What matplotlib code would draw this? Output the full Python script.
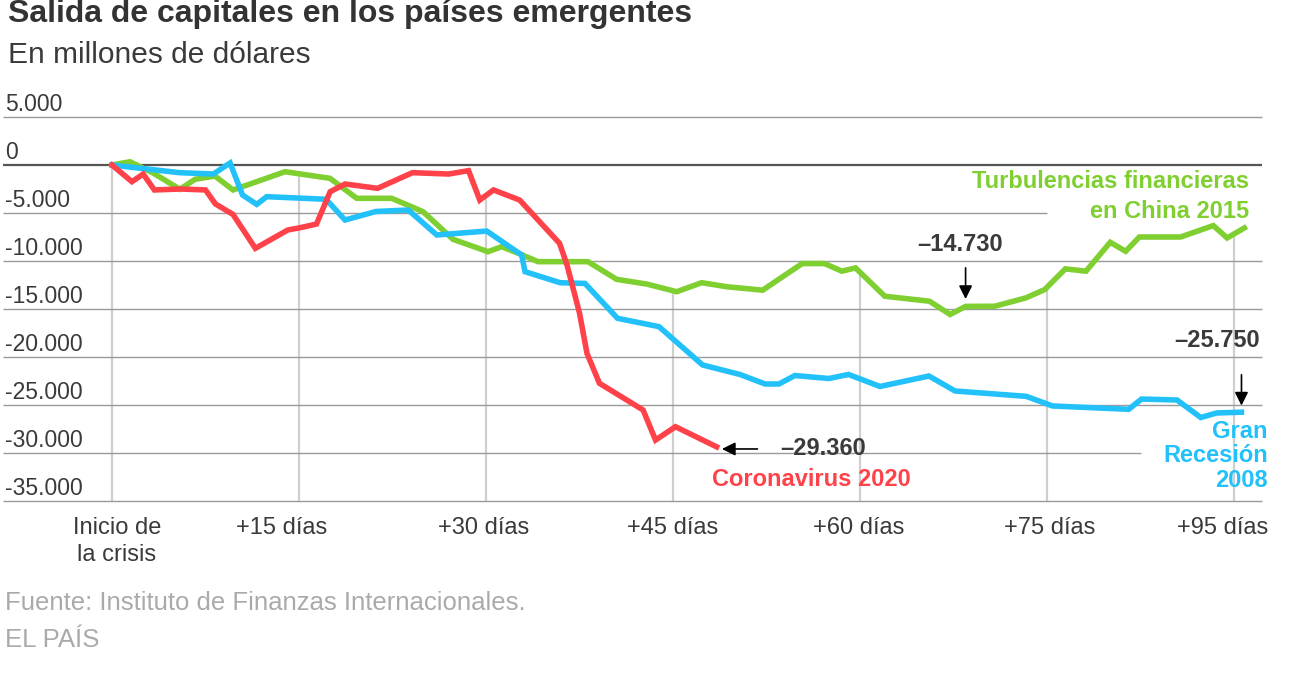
import numpy as np
import matplotlib.pyplot as plt

# días desde el inicio de la crisis / millones de dólares
covid_dias = [0, 1.6, 2.5, 3.4, 5.5, 7.5, 8.3, 9.7, 11.5, 14.1, 15.1, 16.4, 17.5, 18.7,
              21.3, 24.1, 27.0, 28.6, 29.5, 30.6, 32.7, 35.9, 36.5, 37.5, 38.1, 39.1,
              42.6, 43.6, 45.2, 48.5]
covid_vals = [0, -1740, -940, -2600, -2500, -2600, -4060, -5140, -8680, -6770, -6530,
              -6150, -2780, -1980, -2430, -800, -940, -590, -3650, -2600, -3650, -8160,
              -10420, -15420, -19620, -22740, -25520, -28650, -27260, -29360]

china_dias = [0, 1.44, 3.29, 5.45, 6.66, 8.26, 9.71, 13.88, 17.49, 19.63, 22.44, 24.95,
              27.35, 30.16, 31.26, 32.73, 34.17, 38.18, 40.48, 42.89, 45.30, 47.30, 49.31,
              52.19, 55.36, 57.16, 58.54, 59.64, 61.99, 65.57, 67.23, 68.47, 70.82, 73.31,
              74.82, 76.47, 78.13, 80.07, 81.31, 82.41, 85.72, 88.34, 89.45, 90.83]
china_vals = [0, 340, -830, -2530, -1490, -1150, -2600, -700, -1390, -3470, -3470, -4860,
              -7740, -9030, -8510, -9270, -10070, -10070, -11910, -12400, -13200, -12260,
              -12680, -13040, -10270, -10270, -11060, -10720, -13670, -14190, -15570,
              -14730, -14710, -13840, -12970, -10820, -11060, -8050, -8990, -7500, -7500,
              -6310, -7600, -6560]

recesion_dias = [0, 2.78, 5.45, 8.13, 9.47, 10.47, 11.61, 12.41, 17.17, 18.69, 21.18,
                 23.77, 26.05, 30.06, 32.86, 33.13, 35.94, 37.94, 40.55, 43.88, 47.37,
                 50.37, 52.38, 53.50, 54.78, 57.50, 59.08, 61.60, 65.53, 67.62, 73.34,
                 75.44, 81.55, 82.58, 85.43, 87.33, 88.62, 90.60]
recesion_vals = [0, -417, -802, -938, 208, -3125, -4100, -3300, -3570, -5730, -4840,
                 -4690, -7290, -6880, -9375, -11110, -12260, -12340, -15970, -16840,
                 -20830, -21820, -22810, -22810, -21930, -22240, -21820, -23070, -21980,
                 -23540, -24100, -25100, -25450, -24380, -24480, -26300, -25830, -25750]

y_ticks = [5000, 0, -5000, -10000, -15000, -20000, -25000, -30000, -35000]
y_labels = ["5.000", "0", "-5.000", "-10.000", "-15.000", "-20.000", "-25.000",
            "-30.000", "-35.000"]
x_ticks = [0, 15, 30, 45, 60, 75, 90]
x_labels = ["Inicio de\nla crisis", "+15 días", "+30 días", "+45 días", "+60 días",
            "+75 días", "+95 días"]
# dónde se colocan los textos del eje x (no siempre centrados en la rejilla)
x_label_pos = [0.4, 13.6, 29.8, 45.0, 59.9, 75.2, 89.1]

ROJO = "#ff4249"
VERDE = "#7fcf31"
AZUL = "#22c1fa"
TEXTO = "#3a3a3a"

plt.rcParams["font.family"] = ["Liberation Sans", "DejaVu Sans"]

fig = plt.figure(figsize=(13.02, 6.96), dpi=100)
W, H = 1302, 696
ax = fig.add_axes([3 / W, 1 - 501 / H, (1262 - 3) / W, (501 - 117) / H])
px_dia = 187 / 15
ax.set_xlim(-(112 - 3) / px_dia, (1262 - 112) / px_dia)
ax.set_ylim(-35000, 5000)
ax.set_xticks([])
ax.set_yticks([])
for s in ax.spines.values():
    s.set_visible(False)

# líneas horizontales (algunas cortadas por las etiquetas)
x0, x1 = ax.get_xlim()
for v in y_ticks:
    fin = x1
    if v == -5000:
        fin = 75
    if v == -30000:
        fin = 82.5
    col = "#555555" if v == 0 else "#9a9a9a"
    lw = 1.6 if v == 0 else 1.0
    ax.plot([x0, fin], [v, v], color=col, lw=lw, zorder=1, solid_capstyle="butt",
            clip_on=False)

# líneas verticales hasta la serie más alta
for t in x_ticks:
    tope = max(np.interp(t, covid_dias, covid_vals, right=-1e9),
               np.interp(t, china_dias, china_vals, right=-1e9),
               np.interp(t, recesion_dias, recesion_vals, right=-1e9))
    ax.plot([t, t], [-35000, tope], color="#cfcfcf", lw=1.6, zorder=0.5)

ax.plot(china_dias, china_vals, color=VERDE, lw=4, zorder=3, solid_joinstyle="miter")
ax.plot(recesion_dias, recesion_vals, color=AZUL, lw=4, zorder=4, solid_joinstyle="miter")
ax.plot(covid_dias, covid_vals, color=ROJO, lw=4, zorder=5, solid_joinstyle="miter")

# etiquetas eje y, encima de cada línea
for v, lab in zip(y_ticks, y_labels):
    ax.text(2 / 1259, v + 620, lab, transform=ax.get_yaxis_transform(), ha="left",
            va="baseline", fontsize=16.5, color=TEXTO)

# etiquetas eje x
for p, lab in zip(x_label_pos, x_labels):
    ax.text(p, -36700, lab, ha="center", va="top", fontsize=17, color=TEXTO,
            linespacing=1.25, clip_on=False)

# anotaciones
ax.text(91.2, -3280, "Turbulencias financieras\nen China 2015", color=VERDE,
        fontsize=17, fontweight="bold", ha="right", va="center", linespacing=1.4)
ax.text(68.0, -8330, "–14.730", color=TEXTO, fontsize=17, fontweight="bold",
        ha="center", va="center")
ax.annotate("", xy=(68.47, -14250), xytext=(68.47, -10420),
            arrowprops=dict(arrowstyle="-|>", color="black", lw=1.2, mutation_scale=20))
ax.text(92.1, -18330, "–25.750", color=TEXTO, fontsize=17, fontweight="bold",
        ha="right", va="center")
ax.annotate("", xy=(90.6, -25350), xytext=(90.6, -21560),
            arrowprops=dict(arrowstyle="-|>", color="black", lw=1.2, mutation_scale=20))
ax.text(53.6, -29580, "–29.360", color=TEXTO, fontsize=17, fontweight="bold",
        ha="left", va="center")
ax.annotate("", xy=(48.7, -29580), xytext=(52.0, -29580),
            arrowprops=dict(arrowstyle="-|>", color="black", lw=1.2, mutation_scale=20))
ax.text(48.1, -32810, "Coronavirus 2020", color=ROJO, fontsize=17, fontweight="bold",
        ha="left", va="center")
ax.text(92.7, -30310, "Gran\nRecesión\n2008", color=AZUL, fontsize=17,
        fontweight="bold", ha="right", va="center", linespacing=1.1)

# títulos y pie
fig.text(8 / W, 1 - 14 / H, "Salida de capitales en los países emergentes",
         fontsize=23, fontweight="bold", color="#333333", ha="left", va="center")
fig.text(8 / W, 1 - 55 / H, "En millones de dólares", fontsize=21.5, color=TEXTO,
         ha="left", va="center")
fig.text(5 / W, 1 - 603 / H, "Fuente: Instituto de Finanzas Internacionales.",
         fontsize=18.5, color="#aaaaaa", ha="left", va="center")
fig.text(5 / W, 1 - 640 / H, "EL PAÍS", fontsize=18.5, color="#aaaaaa",
         ha="left", va="center")

fig.savefig("out.png", dpi=100, facecolor="white")
